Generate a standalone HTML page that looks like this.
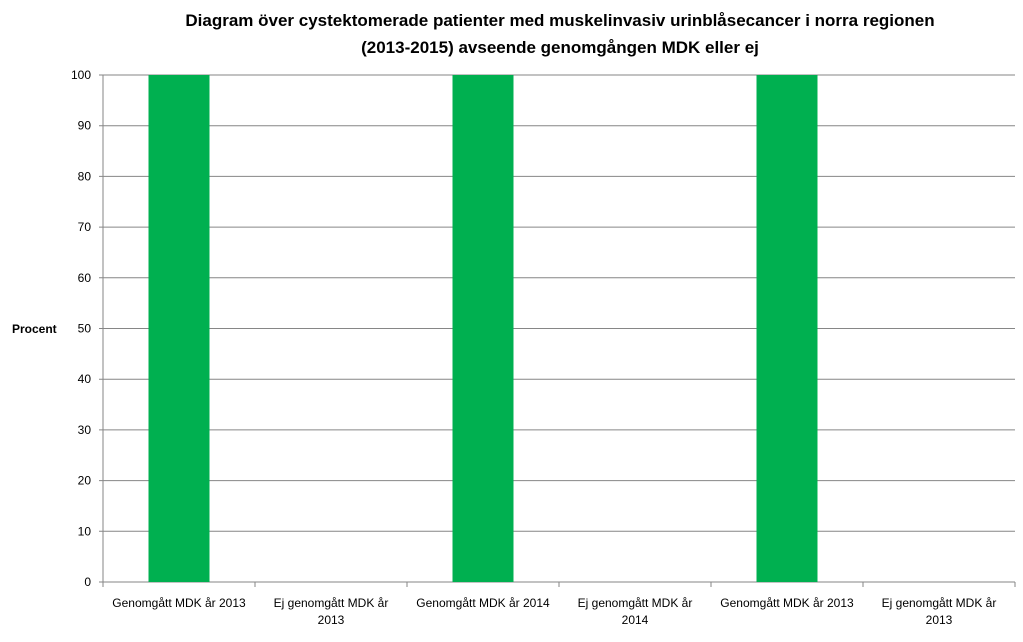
<!DOCTYPE html>
<html><head><meta charset="utf-8"><style>
body{margin:0;background:#fff;width:1023px;height:637px;overflow:hidden;font-family:"Liberation Sans",sans-serif;}
svg text{font-family:"Liberation Sans",sans-serif;}
</style></head><body>
<svg id="c" width="1023" height="637">
<text x="560" y="26" text-anchor="middle" font-size="17" font-weight="bold">Diagram över cystektomerade patienter med muskelinvasiv urinblåsecancer i norra regionen</text>
<text x="560" y="53" text-anchor="middle" font-size="17" font-weight="bold">(2013-2015) avseende genomgången MDK eller ej</text>
<text x="12" y="333" font-size="12" font-weight="bold">Procent</text>
<g id="grid"></g><g id="bars"></g><g id="axes"></g>
</svg>
<script>
const categories=[["Genomgått MDK år 2013"],["Ej genomgått MDK år","2013"],["Genomgått MDK år 2014"],["Ej genomgått MDK år","2014"],["Genomgått MDK år 2013"],["Ej genomgått MDK år","2013"]];
const values=[100,0,100,0,100,0];
const yTicks=[0,10,20,30,40,50,60,70,80,90,100];
const NS="http://www.w3.org/2000/svg";
const x0=103,x1=1015,y0=582,y1=75;
const bw=(x1-x0)/categories.length;
const y=v=>y0-(v/100)*(y0-y1);
function mk(t,a,p){const e=document.createElementNS(NS,t);for(const k in a)e.setAttribute(k,a[k]);p.appendChild(e);return e;}
const grid=document.getElementById('grid'),bars=document.getElementById('bars'),axes=document.getElementById('axes');
yTicks.forEach(t=>{
 const l=mk('line',{x1:x0-4,x2:x1,y1:y(t),y2:y(t),stroke:'#868686','stroke-width':1},grid);
 
 
 const tx=mk('text',{x:x0-12,y:y(t)+4,'text-anchor':'end','font-size':12},axes);
 tx.textContent=t;
 
 
});
const ya=mk('line',{x1:x0,x2:x0,y1:y1,y2:y0,stroke:'#868686'},axes);


values.forEach((v,i)=>{
 const cx=x0+bw*(i+0.5),w=61;
 const r=mk('rect',{x:cx-w/2,y:y(v),width:w,height:y0-y(v),fill:'#00b050'},bars);
 
 
});
for(let i=0;i<=categories.length;i++){
 const tx=x0+bw*i;
 const l=mk('line',{x1:tx,x2:tx,y1:y0,y2:y0+5,stroke:'#868686'},axes);
 
 
}
categories.forEach((c,i)=>{
 c.forEach((s,j)=>{
  const t=mk('text',{x:x0+bw*(i+0.5),y:607+j*17,'text-anchor':'middle','font-size':12},axes);
  t.textContent=s;
  
  
 });
});
</script>
</body></html>
